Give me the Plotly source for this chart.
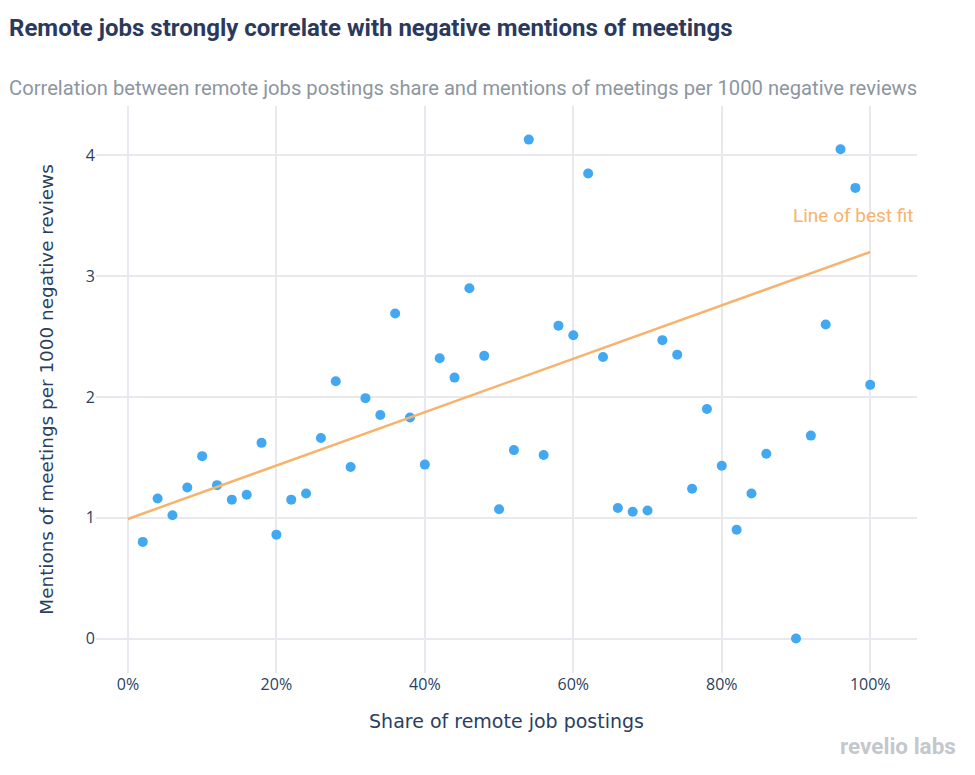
import plotly.graph_objects as go

remote_share = [0.02, 0.04, 0.06, 0.08, 0.10, 0.12, 0.14, 0.16, 0.18, 0.20,
                0.22, 0.24, 0.26, 0.28, 0.30, 0.32, 0.34, 0.36, 0.38, 0.40,
                0.42, 0.44, 0.46, 0.48, 0.50, 0.52, 0.54, 0.56, 0.58, 0.60,
                0.62, 0.64, 0.66, 0.68, 0.70, 0.72, 0.74, 0.76, 0.78, 0.80,
                0.82, 0.84, 0.86, 0.90, 0.92, 0.94, 0.96, 0.98, 1.00]
meeting_mentions = [0.80, 1.16, 1.02, 1.25, 1.51, 1.27, 1.15, 1.19, 1.62, 0.86,
                    1.15, 1.20, 1.66, 2.13, 1.42, 1.99, 1.85, 2.69, 1.83, 1.44,
                    2.32, 2.16, 2.90, 2.34, 1.07, 1.56, 4.13, 1.52, 2.59, 2.51,
                    3.85, 2.33, 1.08, 1.05, 1.06, 2.47, 2.35, 1.24, 1.90, 1.43,
                    0.90, 1.20, 1.53, 0.00, 1.68, 2.60, 4.05, 3.73, 2.10]
fit_x = [0.0, 1.0]
fit_y = [0.99, 3.20]

x_ticks = [0, 0.2, 0.4, 0.6, 0.8, 1.0]
x_tick_text = ["0%", "20%", "40%", "60%", "80%", "100%"]
y_ticks = [0, 1, 2, 3, 4]

navy = "#2a3f5f"
grid = "#e8e8ee"

fig = go.Figure()
fig.add_trace(go.Scatter(x=remote_share, y=meeting_mentions, mode="markers",
                         marker=dict(color="#42a8f2", size=10), showlegend=False,
                         hoverinfo="x+y"))
fig.add_trace(go.Scatter(x=fit_x, y=fit_y, mode="lines",
                         line=dict(color="#f7b36b", width=2.5), showlegend=False))

fig.update_layout(
    width=975, height=775,
    margin=dict(l=96, r=58, t=106, b=102),
    paper_bgcolor="white", plot_bgcolor="white",
    font=dict(family="Roboto, sans-serif", color=navy),
    xaxis=dict(range=[-0.043, 1.063], tickvals=x_ticks, ticktext=x_tick_text,
               showgrid=True, gridcolor=grid, gridwidth=1.5, zeroline=False,
               showline=False, ticks="",
               tickfont=dict(family="Open Sans, sans-serif", size=16, color=navy),
               title=dict(text="Share of remote job postings",
                          font=dict(family="DejaVu Sans, sans-serif", size=19, color=navy),
                          standoff=20)),
    yaxis=dict(range=[-0.285, 4.408], tickvals=y_ticks,
               showgrid=True, gridcolor=grid, gridwidth=1.5, zeroline=False,
               showline=False, ticks="",
               tickfont=dict(family="Open Sans, sans-serif", size=16, color=navy),
               title=dict(text="Mentions of meetings per 1000 negative reviews",
                          font=dict(family="DejaVu Sans, sans-serif", size=18.4, color=navy),
                          standoff=27)),
)

fig.add_annotation(text="<b>Remote jobs strongly correlate with negative mentions of meetings</b>",
                   xref="paper", yref="paper", x=-0.1084, y=1.1376, xanchor="left", yanchor="middle",
                   showarrow=False,
                   font=dict(family="Roboto, sans-serif", size=24, color="#2b3a5c"))
fig.add_annotation(text="Correlation between remote jobs postings share and mentions of meetings per 1000 negative reviews",
                   xref="paper", yref="paper", x=-0.1084, y=1.0317, xanchor="left", yanchor="middle",
                   showarrow=False,
                   font=dict(family="Roboto, sans-serif", size=20.2, color="#8d96a0"))
fig.add_annotation(text="Line of best fit", x=1.0, y=3.505, xref="x", yref="y",
                   xanchor="right", yanchor="middle", xshift=46, showarrow=False,
                   font=dict(family="Roboto, sans-serif", size=19, color="#f7b36b"))
fig.add_annotation(text="<b>revelio labs</b>", xref="paper", yref="paper",
                   x=1.0, y=0.0, xanchor="right", yanchor="middle", xshift=41, yshift=-73,
                   showarrow=False,
                   font=dict(family="Roboto, sans-serif", size=22.5, color="#c3c7ce"))

fig.write_html("out.html")
